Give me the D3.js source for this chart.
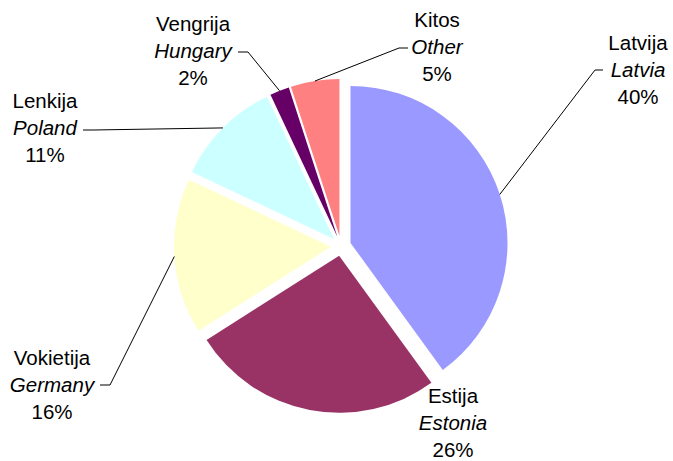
<!DOCTYPE html>
<html><head><meta charset="utf-8">
<script src="https://cdn.jsdelivr.net/npm/d3@7/dist/d3.min.js"></script>
<style>body{margin:0;background:#fff}svg{display:block}text{font-family:"Liberation Sans",Arial,sans-serif;font-size:20.5px;fill:#000}</style>
</head><body><svg id="c" width="673" height="461"></svg>
<script>
const namesLt = ["Latvija","Estija","Vokietija","Lenkija","Vengrija","Kitos"];
const namesEn = ["Latvia","Estonia","Germany","Poland","Hungary","Other"];
const values = [40,26,16,11,2,5];
const colors = ["#9999FF","#993366","#FFFFCC","#CCFFFF","#660066","#FF8080"];
// label layout: center x, first baseline y, leader tick (x1,x2,y) or null
const labelPos = [
  {x:638,y:50,tick:[595,603,70]},
  {x:453,y:403,tick:null},
  {x:52,y:365,tick:[110,100,385]},
  {x:45,y:108,tick:[93,83,130]},
  {x:193,y:31,tick:[248,238,52]},
  {x:437,y:27,tick:[399,408,48]}
];
const cx=341, cy=246, R=157, explode=10, lineH=27;
const svg=d3.select("#c");
const pie=d3.pie().sort(null).value(d=>d)(values);
const arc=d3.arc().innerRadius(0).outerRadius(R);
const g=svg.append("g").attr("transform",`translate(${cx},${cy})`);
pie.forEach((p,i)=>{
  const m=(p.startAngle+p.endAngle)/2;
  const ox=explode*Math.sin(m), oy=-explode*Math.cos(m);
  g.append("path").attr("d",arc(p)).attr("fill",colors[i])
   .attr("transform",`translate(${ox},${oy})`);
  const lp=labelPos[i];
  if(lp.tick){
    const ex=cx+ox+R*Math.sin(m), ey=cy+oy-R*Math.cos(m);
    svg.append("path").attr("fill","none").attr("stroke","#000").attr("stroke-width",1)
      .attr("d",`M${ex},${ey}L${lp.tick[0]},${lp.tick[2]}L${lp.tick[1]},${lp.tick[2]}`);
  }
  const t=svg.append("text").attr("text-anchor","middle");
  t.append("tspan").attr("x",lp.x).attr("y",lp.y).text(namesLt[i]);
  t.append("tspan").attr("x",lp.x).attr("y",lp.y+lineH).attr("font-style","italic").text(namesEn[i]);
  t.append("tspan").attr("x",lp.x).attr("y",lp.y+2*lineH).text(values[i]+"%");
});
</script></body></html>
